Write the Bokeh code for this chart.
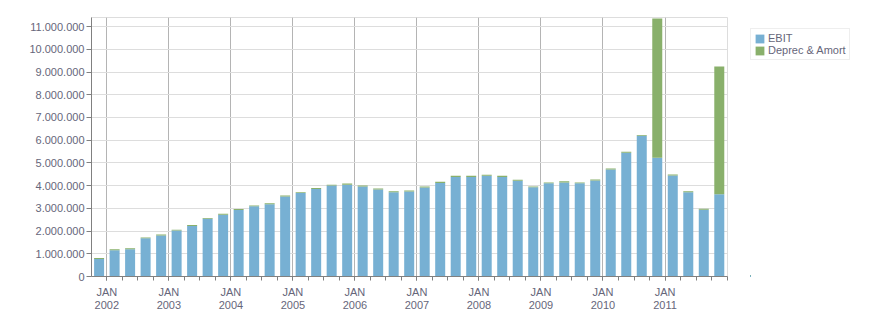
from bokeh.plotting import figure
from bokeh.layouts import row
from bokeh.models import (ColumnDataSource, FixedTicker, CustomJSTickFormatter,
                          Legend, LegendItem, Range1d)
from bokeh.embed import file_html
from bokeh.resources import INLINE

# ---- data ----
quarters = ["2001Q4",
            "2002Q1", "2002Q2", "2002Q3", "2002Q4",
            "2003Q1", "2003Q2", "2003Q3", "2003Q4",
            "2004Q1", "2004Q2", "2004Q3", "2004Q4",
            "2005Q1", "2005Q2", "2005Q3", "2005Q4",
            "2006Q1", "2006Q2", "2006Q3", "2006Q4",
            "2007Q1", "2007Q2", "2007Q3", "2007Q4",
            "2008Q1", "2008Q2", "2008Q3", "2008Q4",
            "2009Q1", "2009Q2", "2009Q3", "2009Q4",
            "2010Q1", "2010Q2", "2010Q3", "2010Q4",
            "2011Q1", "2011Q2", "2011Q3", "2011Q4"]

ebit = [770000,
        1160000, 1200000, 1680000, 1800000,
        2020000, 2220000, 2540000, 2720000,
        2930000, 3090000, 3180000, 3520000,
        3670000, 3850000, 4000000, 4040000,
        3960000, 3830000, 3710000, 3740000,
        3920000, 4120000, 4380000, 4380000,
        4430000, 4380000, 4210000, 3930000,
        4100000, 4140000, 4100000, 4230000,
        4710000, 5450000, 6190000, 5230000,
        4450000, 3710000, 2940000, 3620000]

deprec_amort = [40000,
                40000, 40000, 40000, 50000,
                40000, 50000, 40000, 40000,
                40000, 40000, 40000, 50000,
                40000, 50000, 40000, 50000,
                40000, 40000, 40000, 40000,
                40000, 50000, 50000, 50000,
                50000, 50000, 50000, 30000,
                40000, 50000, 40000, 40000,
                40000, 40000, 40000, 6130000,
                40000, 40000, 40000, 5620000]

years = ["2002", "2003", "2004", "2005", "2006",
         "2007", "2008", "2009", "2010", "2011"]

series_names = ["EBIT", "Deprec & Amort"]

BASE_YEAR = int(years[0])

def qpos(label):
    y, q = label.split("Q")
    return (int(y) - BASE_YEAR) * 4 + (int(q) - 1) + 0.5

src = ColumnDataSource(dict(
    x=[qpos(q) for q in quarters],
    quarter=quarters,
    ebit=ebit,
    dep=deprec_amort,
))

BLUE = "#77b0d3"
GREEN = "#89b06b"
TEXT = "#66667a"
FONT = "Liberation Sans"

p = figure(width=750, height=313,
           x_range=Range1d(-0.99, 40.03), y_range=Range1d(0, 11.4e6),
           output_backend="svg", toolbar_location=None,
           min_border_left=91, min_border_right=23,
           min_border_top=17, min_border_bottom=33)

rs = p.vbar_stack(["ebit", "dep"], x="x", width=0.645, source=src,
                  fill_color=[BLUE, GREEN], line_color=None)

# ---- axes ----
ymajor = [i * 1_000_000 for i in range(0, 12)]
p.yaxis.ticker = FixedTicker(ticks=ymajor)
p.yaxis.formatter = CustomJSTickFormatter(
    code="return Math.round(tick).toString().replace(/\\B(?=(\\d{3})+(?!\\d))/g, '.');")
p.yaxis.major_tick_out = 5
p.yaxis.major_tick_in = 0
p.yaxis.minor_tick_out = 0
p.yaxis.minor_tick_in = 0
p.yaxis.major_label_standoff = 2
p.yaxis.axis_line_color = "#808080"
p.yaxis.major_tick_line_color = "#808080"
p.yaxis.major_label_text_font = FONT
p.yaxis.major_label_text_font_size = "11px"
p.yaxis.major_label_text_color = TEXT

xmajor = [(int(y) - BASE_YEAR) * 4 for y in years]
xminor = list(range(0, 41))
xticker = FixedTicker(ticks=xmajor, minor_ticks=xminor)
p.xaxis.ticker = xticker
p.xaxis.major_label_overrides = {t: "JAN\n" + y for t, y in zip(xmajor, years)}
p.xaxis.major_tick_out = 4
p.xaxis.major_tick_in = 0
p.xaxis.minor_tick_out = 4
p.xaxis.minor_tick_in = 0
p.xaxis.major_label_standoff = 5
p.xaxis.axis_line_color = "#808080"
p.xaxis.major_tick_line_color = "#808080"
p.xaxis.minor_tick_line_color = "#808080"
p.xaxis.major_label_text_font = FONT
p.xaxis.major_label_text_font_size = "11px"
p.xaxis.major_label_text_color = TEXT
p.xaxis.major_label_text_line_height = 1.1

# ---- grids ----
p.xgrid.ticker = xticker
p.xgrid.grid_line_color = "#b4b4b4"
p.ygrid.ticker = FixedTicker(ticks=ymajor)
p.ygrid.grid_line_color = "#dddddd"
p.outline_line_color = "#dddddd"

# ---- legend, in a narrow companion figure on the right ----
# (its ranges lie well away from the data, so its stand-in renderers stay off-frame)
lg = figure(width=126, height=313, x_range=Range1d(1000, 1100), y_range=Range1d(0, 1e9),
            output_backend="svg", toolbar_location=None,
            x_axis_location=None, y_axis_location=None,
            min_border_left=0, min_border_right=0,
            min_border_top=0, min_border_bottom=0)
lg.grid.visible = False
lg.outline_line_color = None
d0 = lg.vbar(x="x", top="ebit", width=0.645, source=src, fill_color=BLUE, line_color=None)
d1 = lg.vbar(x="x", top="dep", width=0.645, source=src, fill_color=GREEN, line_color=None)

legend = Legend(items=[LegendItem(label=series_names[0], renderers=[d0]),
                       LegendItem(label=series_names[1], renderers=[d1])],
                location=(0, 216),
                padding=3, spacing=0, margin=0,
                glyph_width=11, glyph_height=11, label_height=11,
                label_standoff=3,
                label_text_font=FONT, label_text_font_size="11px",
                label_text_color=TEXT,
                border_line_color="#dddddd", background_fill_color="white")
lg.add_layout(legend)

layout = row(p, lg)
open("out.html", "w").write(file_html(layout, INLINE))
